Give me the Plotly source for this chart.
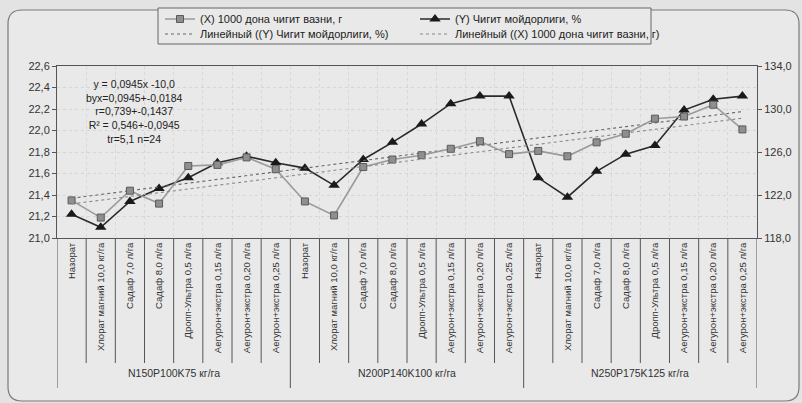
import numpy as np
import plotly.graph_objects as go

# categories (same 8 treatments repeated for three NPK backgrounds)
treatments = ['Назорат', 'Хлорат магний 10,0 кг/га', 'Садаф 7,0 л/га', 'Садаф 8,0 л/га',
              'Дропп-Ультра 0,5 л/га', 'Аегурон+экстра 0,15 л/га',
              'Аегурон+экстра 0,20 л/га', 'Аегурон+экстра 0,25 л/га']
groups = ['N150P100K75 кг/га', 'N200P140K100 кг/га', 'N250P175K125 кг/га']
categories = treatments * len(groups)

# (X) 1000 дона чигит вазни, г  -> right axis
seed_weight = [121.5, 119.9, 122.4, 121.2, 124.7, 124.8, 125.5, 124.4,
               121.4, 120.1, 124.6, 125.3, 125.7, 126.3, 127.0, 125.8,
               126.1, 125.6, 126.9, 127.7, 129.1, 129.3, 130.4, 128.1]
# (Y) Чигит мойдорлиги, %  -> left axis
oil_content = [21.22, 21.10, 21.34, 21.46, 21.56, 21.70, 21.76, 21.70,
               21.65, 21.49, 21.73, 21.89, 22.06, 22.25, 22.32, 22.32,
               21.56, 21.38, 21.62, 21.78, 21.86, 22.19, 22.29, 22.32]

stats_text = ['y = 0,0945x -10,0', 'byx=0,0945+-0,0184', 'r=0,739+-0,1437',
              'R² = 0,546+-0,0945', 'tr=5,1 n=24']

idx = np.arange(len(categories))
fit_y = np.polyval(np.polyfit(idx, oil_content, 1), idx)
fit_x = np.polyval(np.polyfit(idx, seed_weight, 1), idx)

# plot area in pixels (for placing frame/legend decorations)
L, R, T, B = 57, 757, 66, 238
W, H = 802, 403
def px(x):
    return (x - L) / (R - L)
def py(y):
    return (B - y) / (B - T)

FONT = 'Liberation Sans, Arial, sans-serif'

fig = go.Figure()
fig.add_trace(go.Scatter(x=idx, y=seed_weight, yaxis='y2', mode='lines+markers',
                         name='(X) 1000 дона чигит вазни, г',
                         line=dict(color='#9a9a9a', width=1.6),
                         marker=dict(symbol='square', size=7, color='#8f8f8f',
                                     line=dict(color='#5a5a5a', width=1)),
                         legend='legend'))
fig.add_trace(go.Scatter(x=idx, y=oil_content, mode='lines+markers',
                         name='(Y) Чигит мойдорлиги, %',
                         line=dict(color='#2a2a2a', width=1.6),
                         marker=dict(symbol='triangle-up', size=10, color='#1a1a1a'),
                         legend='legend2'))
fig.add_trace(go.Scatter(x=idx, y=fit_y, mode='lines',
                         name='Линейный ((Y) Чигит мойдорлиги, %)',
                         line=dict(color='#666666', width=1.1, dash='dot'),
                         legend='legend3'))
fig.add_trace(go.Scatter(x=idx, y=fit_x, yaxis='y2', mode='lines',
                         name='Линейный ((X) 1000 дона чигит вазни, г)',
                         line=dict(color='#8a8a8a', width=1.1, dash='dot'),
                         legend='legend4'))

shapes = []
# outer rounded frame
x0, x1, y0, y1 = 8, 799, 10, 401
r = 14
rx, ry = r / (R - L), r / (B - T)
path = (f'M {px(x0)+rx},{py(y0)} L {px(x1)-rx},{py(y0)} Q {px(x1)},{py(y0)} {px(x1)},{py(y0)-ry} '
        f'L {px(x1)},{py(y1)+ry} Q {px(x1)},{py(y1)} {px(x1)-rx},{py(y1)} '
        f'L {px(x0)+rx},{py(y1)} Q {px(x0)},{py(y1)} {px(x0)},{py(y1)+ry} '
        f'L {px(x0)},{py(y0)-ry} Q {px(x0)},{py(y0)} {px(x0)+rx},{py(y0)} Z')
shapes.append(dict(type='path', xref='paper', yref='paper', path=path,
                   line=dict(color='#7a7a7a', width=1.2), fillcolor='#e9e9e9', layer='below'))
# legend box
shapes.append(dict(type='rect', xref='paper', yref='paper',
                   x0=px(158), x1=px(651), y0=py(44), y1=py(8),
                   line=dict(color='#666666', width=1), fillcolor='#e9e9e9', layer='below'))
# category cell dividers under the axis
n = len(treatments)
for k in range(len(categories) + 1):
    long = k % n == 0
    shapes.append(dict(type='line', xref='x', yref='paper', x0=k - 0.5, x1=k - 0.5,
                       y0=0, y1=py(388 if long else 363),
                       line=dict(color='#555555', width=1)))

annotations = [dict(x=(g * n) + (n - 1) / 2, y=py(381), xref='x', yref='paper',
                    text=grp, showarrow=False, font=dict(size=10.5, color='#333333', family=FONT))
               for g, grp in enumerate(groups)]
annotations.append(dict(x=px(134), y=py(76), xref='paper', yref='paper',
                        xanchor='center', yanchor='top',
                        text='<br>'.join(stats_text), showarrow=False, align='center',
                        font=dict(size=10.5, color='#222222', family=FONT)))

legend_font = dict(size=11, color='#222222')
def leg(text_x, text_y):
    return dict(x=px(text_x - 40), y=py(text_y), xanchor='left', yanchor='middle',
                bgcolor='rgba(0,0,0,0)', font=legend_font)

fig.update_layout(
    width=W, height=H,
    margin=dict(l=L, r=W - R, t=T, b=H - B, autoexpand=False),
    paper_bgcolor='#e3e3e3', plot_bgcolor='#ececec',
    separators=', ',
    showlegend=True,
    font=dict(family=FONT, size=10, color='#333333'),
    shapes=shapes, annotations=annotations,
    legend=leg(200, 19), legend2=leg(455, 19),
    legend3=leg(200, 34), legend4=leg(455, 34),
    xaxis=dict(range=[-0.5, len(categories) - 0.5], tickvals=idx, ticktext=categories,
               tickangle=-90, ticks='', tickfont=dict(size=9.5, color='#333333'),
               showline=True, linecolor='#555555', linewidth=1, mirror=True,
               showgrid=False, zeroline=False, automargin=False,
               minor=dict(tickvals=idx[1:] - 0.5, showgrid=True, gridcolor='#d8d8d8',
                          griddash='dot', gridwidth=1)),
    yaxis=dict(range=[21.0, 22.6], dtick=0.2, tickformat='.1f', ticks='outside', ticklen=4,
               tickcolor='#555555', showline=True, linecolor='#555555',
               gridcolor='#d6d6d6', griddash='dot', zeroline=False, automargin=False,
               tickfont=dict(size=11, color='#333333')),
    yaxis2=dict(range=[118, 134], tick0=118, dtick=4, tickformat='.1f', overlaying='y',
                side='right', ticks='outside', ticklen=4, tickcolor='#555555',
                showline=True, linecolor='#555555', showgrid=False, zeroline=False,
                automargin=False, tickfont=dict(size=11, color='#333333')),
)

fig.write_html('out.html', config={'displayModeBar': False},
               post_script="document.body.style.margin='0';")
